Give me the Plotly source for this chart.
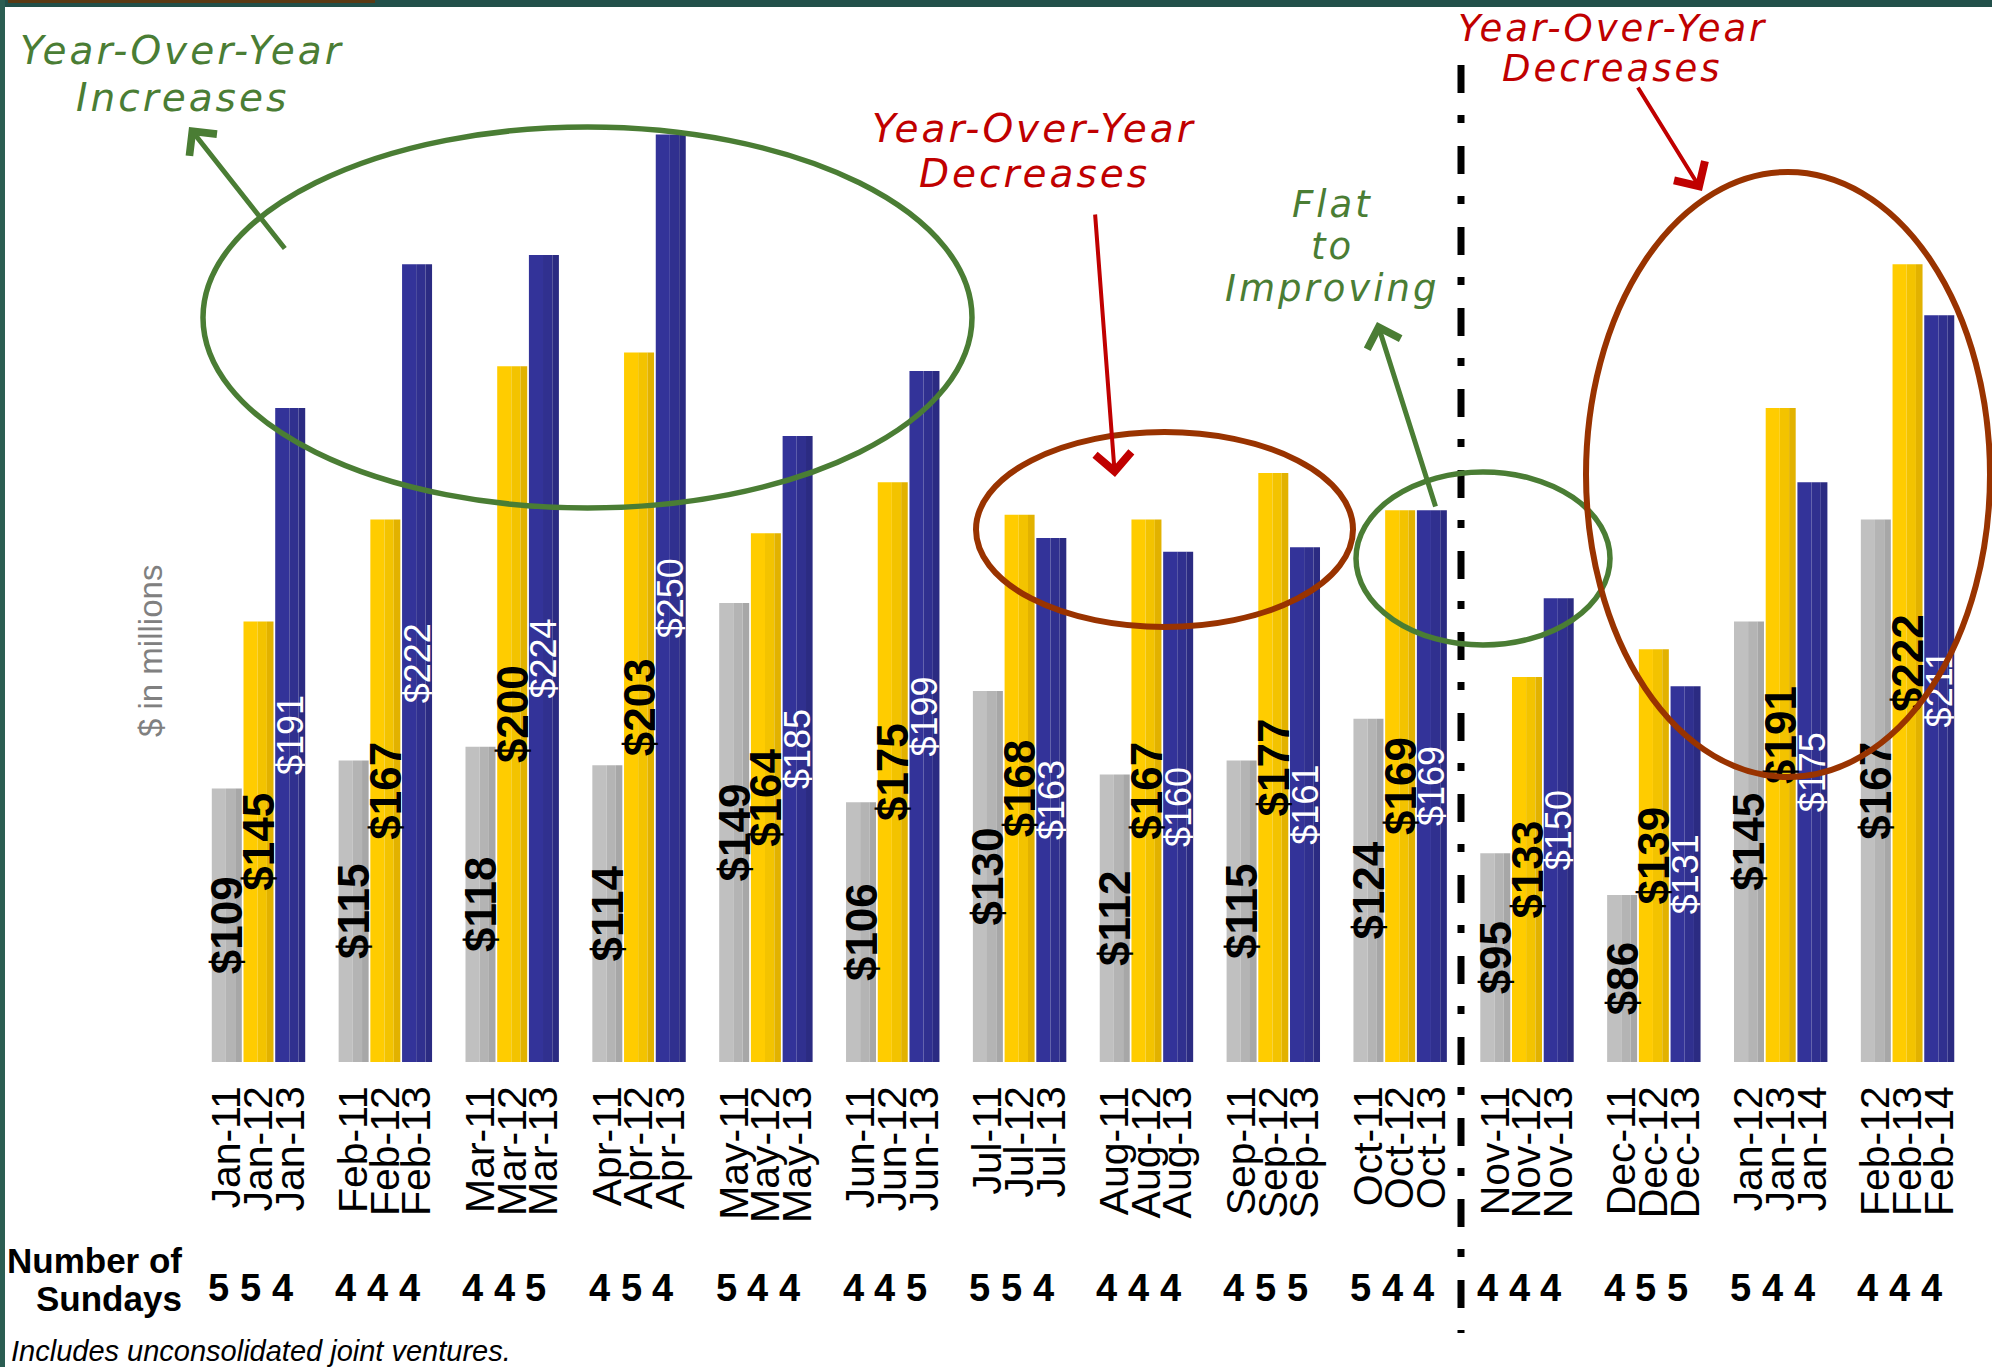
import plotly.graph_objects as go

# ---------------- data ----------------
grey_periods = ["Jan-11", "Feb-11", "Mar-11", "Apr-11", "May-11", "Jun-11", "Jul-11",
                "Aug-11", "Sep-11", "Oct-11", "Nov-11", "Dec-11", "Jan-12", "Feb-12"]
gold_periods = ["Jan-12", "Feb-12", "Mar-12", "Apr-12", "May-12", "Jun-12", "Jul-12",
                "Aug-12", "Sep-12", "Oct-12", "Nov-12", "Dec-12", "Jan-13", "Feb-13"]
blue_periods = ["Jan-13", "Feb-13", "Mar-13", "Apr-13", "May-13", "Jun-13", "Jul-13",
                "Aug-13", "Sep-13", "Oct-13", "Nov-13", "Dec-13", "Jan-14", "Feb-14"]

grey_values = [109, 115, 118, 114, 149, 106, 130, 112, 115, 124, 95, 86, 145, 167]
gold_values = [145, 167, 200, 203, 164, 175, 168, 167, 177, 169, 133, 139, 191, 222]
blue_values = [191, 222, 224, 250, 185, 199, 163, 160, 161, 169, 150, 131, 175, 211]

grey_sundays = [5, 4, 4, 4, 5, 4, 5, 4, 4, 5, 4, 4, 5, 4]
gold_sundays = [5, 4, 4, 5, 4, 4, 5, 4, 5, 4, 4, 5, 4, 4]
blue_sundays = [4, 4, 5, 4, 4, 5, 4, 4, 5, 4, 4, 5, 4, 4]

# ---------------- geometry ----------------
FIG_W, FIG_H = 1992, 1367
PLOT_BOTTOM = 1062            # pixel row of the value axis floor
Y_FLOOR, Y_TOP = 50, 279      # visible value range ($M)
GROUP_PX = 126.85             # pixel distance between month groups
FIRST_GROUP_PX = 258.5        # pixel x of the first group's centre
SLOT = 0.25                   # distance between bars in a group (group units)
BAR_W = 0.2365                # bar width (group units)

ARIAL = "Liberation Sans, Arial, sans-serif"
NARROW = "Liberation Sans Narrow, Arial Narrow, Liberation Sans, sans-serif"
CALLOUT = "DejaVu Sans, Verdana, sans-serif"
GREEN = "#4a7d34"
RED = "#c00000"
BROWN = "#993300"


def px(x):
    return x / FIG_W


def py(y):
    return 1 - y / PLOT_BOTTOM


series = [
    dict(name="grey", values=grey_values, periods=grey_periods, sundays=grey_sundays,
         offset=-SLOT, shades=["#c0c0c0", "#b4b4b4", "#a7a7a7"],
         label_font=dict(family=NARROW, size=44, color="black", weight="bold")),
    dict(name="gold", values=gold_values, periods=gold_periods, sundays=gold_sundays,
         offset=0.0, shades=["#ffcc00", "#f3c300", "#e2b200"],
         label_font=dict(family=NARROW, size=44, color="black", weight="bold")),
    dict(name="blue", values=blue_values, periods=blue_periods, sundays=blue_sundays,
         offset=SLOT, shades=["#333399", "#30308f", "#2b2b82"],
         label_font=dict(family=ARIAL, size=36, color="white")),
]

# cylinder-like shading: three vertical bands per bar
BANDS = [(0.0, 0.47), (0.47, 0.78), (0.78, 1.0)]

fig = go.Figure()
groups = list(range(len(grey_values)))

for s in series:
    heights = [v - Y_FLOOR for v in s["values"]]
    for (b0, b1), colour in zip(BANDS, s["shades"]):
        fig.add_trace(go.Bar(
            x=[g + s["offset"] - BAR_W / 2 + BAR_W * (b0 + b1) / 2 for g in groups],
            y=heights, base=Y_FLOOR, width=BAR_W * (b1 - b0),
            marker=dict(color=colour, line=dict(width=0)),
            showlegend=False, hoverinfo="skip"))

# value labels, drawn on transparent bars so they sit above the shading
for s in series:
    fig.add_trace(go.Bar(
        x=[g + s["offset"] for g in groups],
        y=[v - Y_FLOOR for v in s["values"]], base=Y_FLOOR, width=BAR_W,
        marker=dict(color="rgba(0,0,0,0)", line=dict(width=0)),
        text=[f"${v}" for v in s["values"]],
        textposition="inside", insidetextanchor="middle", textangle=-90,
        constraintext="none", cliponaxis=False,
        textfont=s["label_font"],
        name=s["name"], showlegend=False,
        hovertemplate="%{text}<extra></extra>"))

# per-bar period tick labels
tickvals, ticktext = [], []
for g in groups:
    for s in series:
        tickvals.append(g + s["offset"])
        ticktext.append(s["periods"][g])

x_range = [-FIRST_GROUP_PX / GROUP_PX, (FIG_W - FIRST_GROUP_PX) / GROUP_PX]

fig.update_layout(
    width=FIG_W, height=FIG_H,
    margin=dict(l=0, r=0, t=0, b=FIG_H - PLOT_BOTTOM, pad=0),
    paper_bgcolor="white", plot_bgcolor="white",
    barmode="overlay", showlegend=False,
    xaxis=dict(range=x_range, tickmode="array", tickvals=tickvals, ticktext=ticktext,
               tickangle=-90, tickfont=dict(family=ARIAL, size=41, color="black"),
               ticks="", ticklabelstandoff=15, showgrid=False, zeroline=False,
               showline=False, automargin=False, fixedrange=True),
    yaxis=dict(range=[Y_FLOOR, Y_TOP], showticklabels=False, ticks="", showgrid=False,
               zeroline=False, showline=False, automargin=False, fixedrange=True),
)


def text_line(text, x, baseline, size, colour, family, anchor="center", **font_extra):
    """Place one line of text so that its baseline lands on the given pixel row."""
    fig.add_annotation(x=px(x), y=py(baseline - 0.36 * size), xref="paper", yref="paper",
                       text=text, showarrow=False, xanchor=anchor, yanchor="middle",
                       font=dict(family=family, size=size, color=colour, **font_extra))


# "Number of Sundays" row
text_line("Number of", 184, 1273, 35, "black", ARIAL, anchor="right", weight="bold")
text_line("Sundays", 184, 1311, 35, "black", ARIAL, anchor="right", weight="bold")
for g in groups:
    for s in series:
        fig.add_annotation(x=g + s["offset"] - 8 / GROUP_PX, y=py(1288), xref="x", yref="paper",
                           text=str(s["sundays"][g]), showarrow=False,
                           xanchor="center", yanchor="middle",
                           font=dict(family=ARIAL, size=38, color="black", weight="bold"))

# axis caption and footnote
fig.add_annotation(x=px(150), y=py(651), xref="paper", yref="paper", text="$ in millions",
                   showarrow=False, textangle=-90, xanchor="center", yanchor="middle",
                   font=dict(family=ARIAL, size=33, color="#808080"))
text_line("Includes unconsolidated joint ventures.", 9, 1361, 29, "black", ARIAL,
          anchor="left", style="italic")

# slide frame
fig.add_shape(type="rect", xref="paper", yref="paper", x0=0, x1=1, y0=py(0), y1=py(7),
              fillcolor="#22504a", line=dict(width=0), layer="above")
fig.add_shape(type="rect", xref="paper", yref="paper", x0=px(8), x1=px(375), y0=py(0), y1=py(3),
              fillcolor="#5b3a14", line=dict(width=0), layer="above")
fig.add_shape(type="rect", xref="paper", yref="paper", x0=0, x1=px(5), y0=py(0), y1=py(FIG_H),
              fillcolor="#2b5d52", line=dict(width=0), layer="above")

# divider between the Oct and Nov groups
fig.add_shape(type="line", xref="paper", yref="paper", x0=px(1461), x1=px(1461),
              y0=py(65), y1=py(1333),
              line=dict(color="black", width=7, dash="28px,22px,8px,23px"), layer="above")

# highlight ellipses
ellipses = [
    ((203, 127, 972, 508), GREEN, 5.5),
    ((976, 432, 1353, 627), BROWN, 6),
    ((1356, 472, 1610, 645), GREEN, 5.5),
    ((1586, 172, 1990, 777), BROWN, 6),
]
for (x0, y0, x1, y1), colour, lw in ellipses:
    fig.add_shape(type="circle", xref="paper", yref="paper",
                  x0=px(x0), x1=px(x1), y0=py(y0), y1=py(y1),
                  line=dict(color=colour, width=lw), layer="above")


def arrow(tail, head, colour, width, size):
    fig.add_annotation(x=px(head[0]), y=py(head[1]), xref="paper", yref="paper",
                       ax=tail[0] - head[0], ay=tail[1] - head[1], text="",
                       showarrow=True, arrowhead=4, arrowwidth=width, arrowsize=size,
                       arrowcolor=colour, standoff=0, startstandoff=0)


arrow((286, 250), (189, 127), GREEN, 5, 1.35)
arrow((1095, 213), (1115, 477), RED, 4, 1.75)
arrow((1436, 508), (1377, 322), GREEN, 5, 1.35)
arrow((1637, 86), (1702, 191), RED, 4, 1.75)


def callout(lines, cx, baselines, size, colour):
    for text, base in zip(lines, baselines):
        spaced = f'<span style="letter-spacing:3px">{text}</span>'
        text_line(spaced, cx, base, size, colour, CALLOUT, style="italic")


callout(["Year-Over-Year", "Increases"], 182, [65, 112], 39, GREEN)
callout(["Year-Over-Year", "Decreases"], 1034, [143, 188], 39, RED)
callout(["Year-Over-Year", "Decreases"], 1612, [42, 82], 37, RED)
callout(["Flat", "to", "Improving"], 1332, [218, 260, 302], 37, GREEN)

fig.write_html("out.html")
